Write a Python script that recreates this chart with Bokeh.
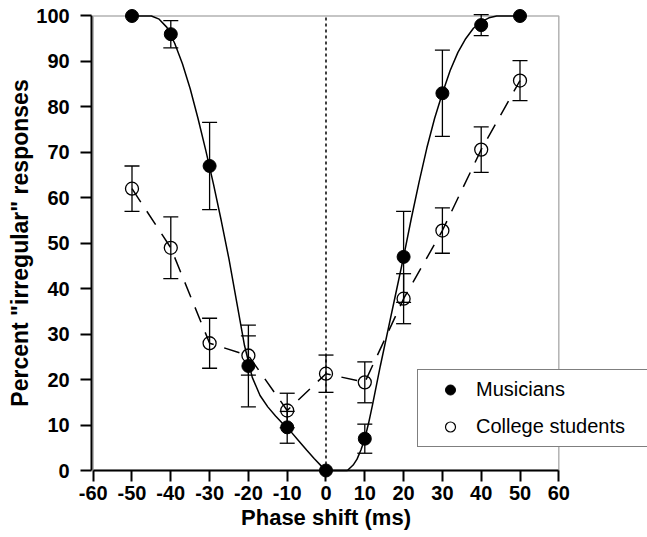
from bokeh.plotting import figure
from bokeh.models import (ColumnDataSource, Whisker, FixedTicker, Legend, LegendItem,
                          BoxAnnotation, Range1d, TeeHead)
from bokeh.embed import file_html
from bokeh.resources import INLINE

# ---------------- data ----------------
phase = [-50, -40, -30, -20, -10, 0, 10, 20, 30, 40, 50]
musicians = [100, 96, 67, 23, 9.5, 0, 7, 47, 83, 98, 100]
musicians_err = [0, 3, 9.6, 9, 3.5, 0, 3.2, 10, 9.5, 2.3, 0]
students = [62, 49, 28, 25.3, 13.2, 21.3, 19.4, 37.8, 52.8, 70.6, 85.8]
students_err = [5, 6.8, 5.5, 4.3, 3.8, 4.1, 4.5, 5.5, 5, 5, 4.4]

# smooth fitted curve for musicians
fit_x = [-50, -45, -43, -41, -39, -37, -35, -33, -31, -29, -27, -25, -23, -21, -19, -17,
         -15, -13, -11, -9, -7, -5, -3, -1, 0, 2, 4, 5.5, 7, 8, 9, 10, 11, 12, 14, 16, 18,
         20, 22, 24, 26, 28, 30, 32, 34, 36, 38, 40, 42, 44, 50]
fit_y = [100, 100, 99.3, 97.5, 94, 89.5, 84, 77.5, 70.5, 63, 55, 46.5, 37, 27.5, 20.5, 16.5,
         14, 12, 10.2, 8.5, 6.5, 4.5, 2.6, 0.8, 0, 0, 0, 0, 1.2, 2.5, 4.5, 7, 10.5, 14.5, 23, 31, 39,
         47, 55.5, 63.5, 71, 77.5, 83, 88, 92, 95, 97.3, 98.7, 99.6, 100, 100]

x_ticks = [-60, -50, -40, -30, -20, -10, 0, 10, 20, 30, 40, 50, 60]
x_tick_labels = ["-60", "-50", "-40", "-30", "-20", "-10", "0", "10", "20", "30", "40", "50", "60"]
y_ticks = [0, 10, 20, 30, 40, 50, 60, 70, 80, 90, 100]
y_tick_labels = ["0", "10", "20", "30", "40", "50", "60", "70", "80", "90", "100"]
x_limits = (-60, 60)
y_limits = (0, 100)
zero_shift = 0

x_label = "Phase shift (ms)"
y_label = 'Percent "irregular" responses'
series_labels = ["Musicians", "College students"]

# ---------------- figure ----------------
# the frame covers the whole canvas; axes are pinned at data locations
p = figure(frame_width=647, frame_height=537,
           min_border_left=0, min_border_right=0, min_border_top=0, min_border_bottom=0,
           x_range=Range1d(-83.89, 82.86), y_range=Range1d(-14.74, 103.41),
           output_backend="svg", toolbar_location=None, background_fill_color="white")
p.outline_line_color = None
p.grid.visible = False

FONT = "Liberation Sans"

xa = p.xaxis[0]
xa.fixed_location = y_limits[0]
xa.bounds = x_limits
xa.ticker = FixedTicker(ticks=x_ticks, minor_ticks=[])
xa.major_label_overrides = {t: s for t, s in zip(x_ticks, x_tick_labels)}
ya = p.yaxis[0]
ya.fixed_location = -60.4
ya.bounds = y_limits
ya.ticker = FixedTicker(ticks=y_ticks, minor_ticks=[])
ya.major_label_overrides = {t: s for t, s in zip(y_ticks, y_tick_labels)}
for ax in (xa, ya):
    ax.axis_line_width = 2
    ax.axis_line_color = "black"
    ax.major_tick_line_width = 2
    ax.major_tick_line_color = "black"
    ax.major_tick_out = 11
    ax.major_tick_in = 0
    ax.minor_tick_out = 0
    ax.minor_tick_in = 0
    ax.major_label_text_font = FONT
    ax.major_label_text_font_style = "bold"
    ax.major_label_text_font_size = "20px"
    ax.major_label_text_color = "black"
    ax.axis_label_text_font = FONT
    ax.axis_label_text_font_style = "bold"
    ax.axis_label_text_color = "black"
xa.major_label_standoff = 4
xa.axis_label = x_label
xa.axis_label_text_font_size = "22px"
xa.axis_label_standoff = 2
ya.major_label_standoff = 11
ya.axis_label = y_label
ya.axis_label_text_font_size = "23px"
ya.axis_label_standoff = 0

# frame box (top / right borders)
p.add_layout(BoxAnnotation(left=x_limits[0], right=x_limits[1], bottom=y_limits[0], top=y_limits[1],
                           fill_color=None, fill_alpha=0, line_color="black", line_width=1.5))

# dotted vertical line at zero shift
p.segment(x0=[zero_shift], y0=[y_limits[0]], x1=[zero_shift], y1=[y_limits[1]],
          line_color="black", line_width=1.5, line_dash="3 3")

# students: dashed connecting line
p.line(phase, students, line_color="black", line_width=1.5, line_dash="16 11")
# musicians: fitted solid curve
p.line(fit_x, fit_y, line_color="black", line_width=1.5)

# error bars (skip zero-length)
def whisk(vals, errs):
    xs = [x for x, e in zip(phase, errs) if e > 0]
    up = [v + e for v, e in zip(vals, errs) if e > 0]
    lo = [v - e for v, e in zip(vals, errs) if e > 0]
    src = ColumnDataSource(dict(x=xs, upper=up, lower=lo))
    w = Whisker(source=src, base="x", upper="upper", lower="lower",
                line_color="black", line_width=1.3,
                upper_head=TeeHead(size=15, line_width=1.3, line_color="black"),
                lower_head=TeeHead(size=15, line_width=1.3, line_color="black"))
    p.add_layout(w)

whisk(students, students_err)
whisk(musicians, musicians_err)

# markers
p.scatter(phase, students, size=13, marker="circle", fill_color=None,
          line_color="black", line_width=1.3)
p.scatter(phase, musicians, size=13, marker="circle", fill_color="black",
          line_color="black")

# legend proxies (smaller symbols, no visible data point)
nan = float("nan")
leg_m = p.scatter([nan], [nan], size=10, marker="circle", fill_color="black", line_color="black")
leg_s = p.scatter([nan], [nan], size=10, marker="circle", fill_color=None, line_color="black",
                  line_width=1.2)

legend = Legend(items=[LegendItem(label=series_labels[0], renderers=[leg_m]),
                       LegendItem(label=series_labels[1], renderers=[leg_s])],
                location=(417, 90), orientation="vertical",
                padding=7, spacing=12, margin=0,
                glyph_width=50, glyph_height=25, label_height=25, label_width=170,
                label_standoff=1,
                label_text_font=FONT, label_text_font_size="20px", label_text_color="black",
                border_line_color="black", border_line_width=1.5,
                background_fill_color="white", background_fill_alpha=1.0)
p.add_layout(legend)

open("out.html", "w").write(file_html(p, INLINE))
